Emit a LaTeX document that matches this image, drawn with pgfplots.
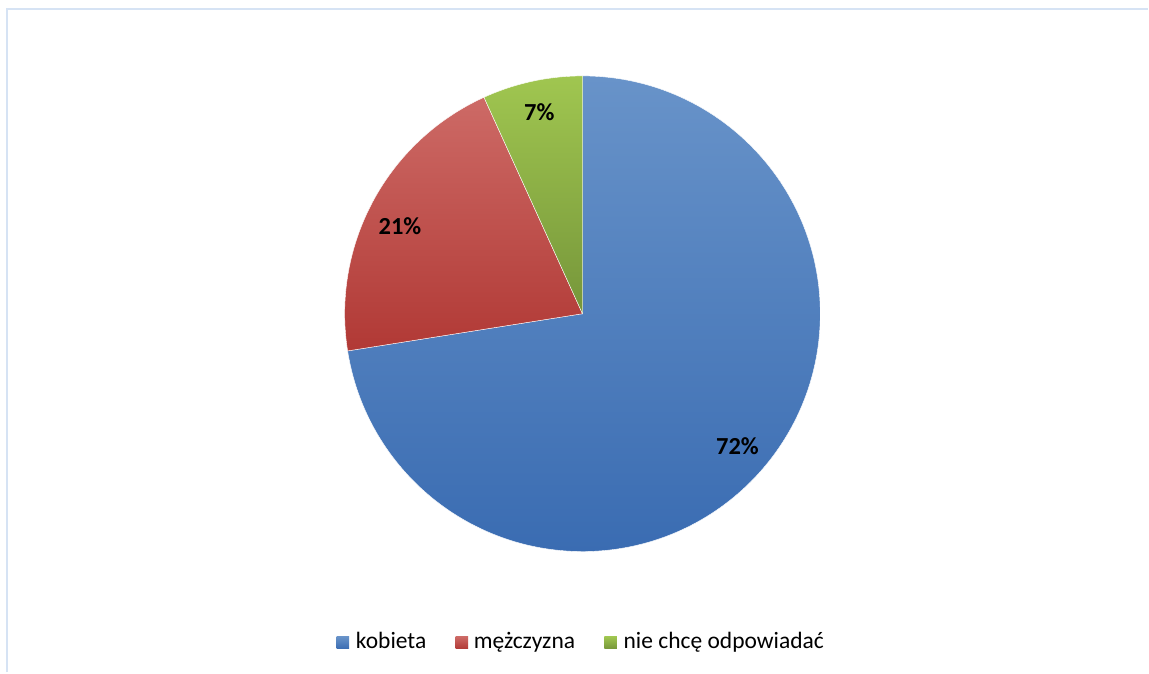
\documentclass[border=0pt]{standalone}
\usepackage{pgfplots}
\pgfplotsset{compat=1.18}
\usepackage{pgfplotstable}
\usetikzlibrary{calc}
\usepackage{fontspec}
\setmainfont{Carlito}

\definecolor{blueT}{HTML}{6893C9}
\definecolor{blueB}{HTML}{3A6CB2}
\definecolor{redT}{HTML}{CD6A66}
\definecolor{redB}{HTML}{B13935}
\definecolor{greenT}{HTML}{A0C650}
\definecolor{greenB}{HTML}{76963A}
\definecolor{frame}{HTML}{D6E3F4}

\pgfplotstableread[col sep=comma]{
name,value,label
kobieta,72.5,72
mężczyzna,20.7,21
nie chcę odpowiadać,6.8,7
}\piedata

\pgfplotstablegetelem{0}{value}\of\piedata\let\vA\pgfplotsretval
\pgfplotstablegetelem{1}{value}\of\piedata\let\vB\pgfplotsretval
\pgfplotstablegetelem{2}{value}\of\piedata\let\vC\pgfplotsretval
\pgfplotstablegetelem{0}{label}\of\piedata\let\lA\pgfplotsretval
\pgfplotstablegetelem{1}{label}\of\piedata\let\lB\pgfplotsretval
\pgfplotstablegetelem{2}{label}\of\piedata\let\lC\pgfplotsretval
\pgfplotstablegetelem{0}{name}\of\piedata\let\nA\pgfplotsretval
\pgfplotstablegetelem{1}{name}\of\piedata\let\nB\pgfplotsretval
\pgfplotstablegetelem{2}{name}\of\piedata\let\nC\pgfplotsretval
\pgfmathsetmacro\aA{90-3.6*\vA}
\pgfmathsetmacro\aB{\aA-3.6*\vB}
\pgfmathsetmacro\aC{\aB-3.6*\vC}
\pgfmathsetmacro\mA{(90+\aA)/2}
\pgfmathsetmacro\mB{(\aA+\aB)/2}
\pgfmathsetmacro\mC{(\aB+\aC)/2}

\begin{document}
\begin{tikzpicture}
\begin{axis}[width=1149pt,height=673pt,scale only axis,
  xmin=0,xmax=1149,ymin=0,ymax=673,hide axis,clip=false]
\fill[white] (axis cs:0,0) rectangle (axis cs:1149,673);
\draw[frame,line width=2pt] (axis cs:7,0) -- (axis cs:7,664) -- (axis cs:1149,664);
% wedges
\shade[top color=blueT,bottom color=blueB,draw=white,line width=0.4pt]
  (axis cs:583,359) -- ++(90:238pt) arc[start angle=90,end angle=\aA,radius=238pt] -- cycle;
\shade[top color=redT,bottom color=redB,draw=white,line width=0.4pt]
  (axis cs:583,359) -- ++(\aA:238pt) arc[start angle=\aA,end angle=\aB,radius=238pt] -- cycle;
\shade[top color=greenT,bottom color=greenB,draw=white,line width=0.4pt]
  (axis cs:583,359) -- ++(\aB:238pt) arc[start angle=\aB,end angle=\aC,radius=238pt] -- cycle;
% labels
\node[font=\fontsize{24.5}{28}\selectfont\bfseries] at ($(axis cs:583,359)+(\mA:204pt)$) {\lA\%};
\node[font=\fontsize{24.5}{28}\selectfont\bfseries,yshift=-9pt,xshift=-3pt] at ($(axis cs:583,359)+(\mB:204pt)$) {\lB\%};
\node[font=\fontsize{24.5}{28}\selectfont\bfseries,yshift=2pt] at ($(axis cs:583,359)+(\mC:204pt)$) {\lC\%};
% legend
\shade[top color=blueT,bottom color=blueB] (axis cs:337,23.5) rectangle (axis cs:349.5,36);
\node[anchor=base west,inner sep=0pt,font=\fontsize{23.5}{28}\selectfont] at (axis cs:356,24) {\nA};
\shade[top color=redT,bottom color=redB] (axis cs:456,23.5) rectangle (axis cs:468.5,36);
\node[anchor=base west,inner sep=0pt,font=\fontsize{23.5}{28}\selectfont] at (axis cs:474,24) {\nB};
\shade[top color=greenT,bottom color=greenB] (axis cs:605,23.5) rectangle (axis cs:617.5,36);
\node[anchor=base west,inner sep=0pt,font=\fontsize{23.5}{28}\selectfont] at (axis cs:624,24) {\nC};
\end{axis}
\end{tikzpicture}
\end{document}
